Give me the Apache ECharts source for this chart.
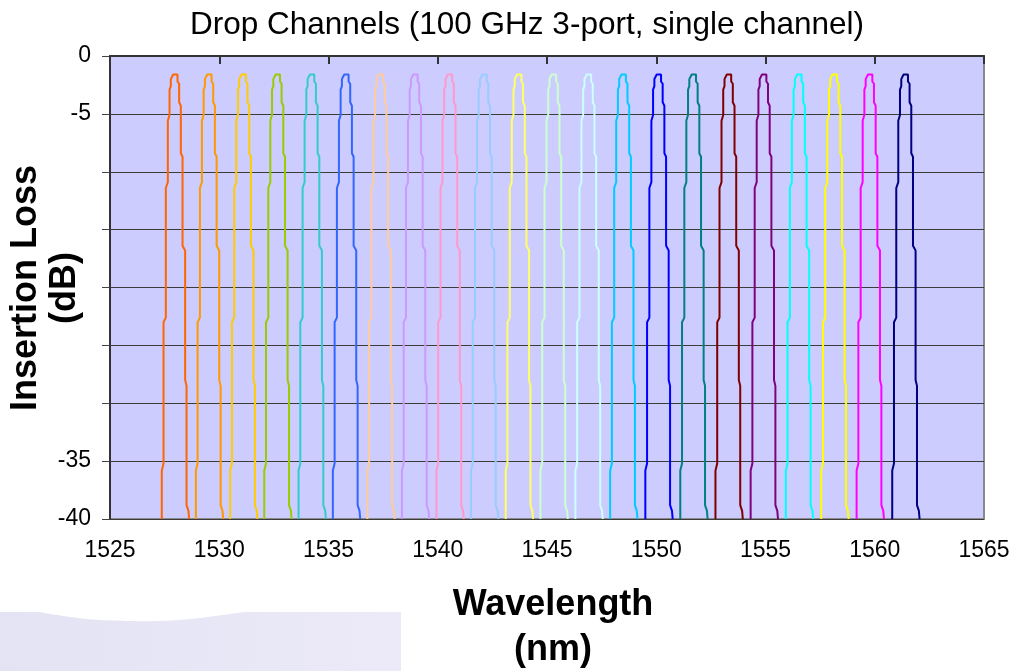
<!DOCTYPE html>
<html>
<head>
<meta charset="utf-8">
<script src="https://cdn.jsdelivr.net/npm/echarts@6/dist/echarts.min.js"></script>
<style>
  html, body { margin: 0; padding: 0; background: #ffffff; }
  #chart { width: 1015px; height: 671px; }
</style>
</head>
<body>
<div id="chart"></div>
<script>
// Channel centre wavelengths (nm), 200 GHz apart on the ITU grid
const channelCenters = [
  1527.99, 1529.55, 1531.12, 1532.68, 1534.25, 1535.82, 1537.40, 1538.98,
  1540.56, 1542.14, 1543.73, 1545.32, 1546.92, 1548.51, 1550.12, 1551.72,
  1553.33, 1554.94, 1556.55, 1558.17, 1559.79, 1561.42
];

const channelColors = [
  '#FF6600', '#FF9900', '#FFCC00', '#99CC00', '#33CCCC', '#3366FF',
  '#FFCC99', '#CC99FF', '#FF99CC', '#99CCFF', '#FFFF66', '#CCFFCC',
  '#CCFFFF', '#00CCFF', '#0000FF', '#008080', '#800000', '#800080',
  '#00FFFF', '#FFFF00', '#FF00FF', '#000080'
];

// Measured drop-port passband: wavelength offset from centre (nm), insertion loss (dB)
const passbandOffsets = [
  -0.62, -0.62, -0.54, -0.54, -0.435, -0.435, -0.343, -0.343, -0.265, -0.265,
  -0.206, -0.206, -0.10, 0.10, 0.10, 0.174, 0.174, 0.252, 0.252, 0.33,
  0.33, 0.449, 0.449, 0.513, 0.513, 0.60, 0.632
];
const passbandLoss = [
  -40, -35.8, -35.2, -23.0, -22.6, -11.4, -10.9, -5.6, -5.1, -2.9,
  -2.6, -2.0, -1.6, -1.6, -2.2, -2.4, -4.0, -4.3, -8.4, -8.7,
  -16.4, -16.8, -28.0, -28.5, -38.8, -39.3, -40
];

const yTickLabels = { '0': '0', '-5': '-5', '-35': '-35', '-40': '-40' };

const FONT = '"Liberation Sans", Arial, sans-serif';

const series = channelCenters.map((c, i) => ({
  type: 'line',
  name: 'Ch ' + (i + 1),
  xAxisIndex: 0,
  data: passbandOffsets.map((d, k) => [c + d, passbandLoss[k]]),
  showSymbol: false,
  symbol: 'none',
  lineStyle: { width: 2, color: channelColors[i] },
  itemStyle: { color: channelColors[i] },
  clip: true,
  z: 3
}));

const chart = echarts.init(document.getElementById('chart'));
chart.setOption({
  animation: false,
  backgroundColor: '#ffffff',
  grid: {
    left: 110, right: 31, top: 56, bottom: 152,
    show: true,
    backgroundColor: '#CCCCFF',
    borderColor: '#8a8a8a',
    borderWidth: 2
  },
  xAxis: [
    {
      type: 'value', position: 'bottom',
      min: 1525, max: 1565, interval: 5,
      axisLine: { show: false },
      axisTick: { show: false },
      splitLine: { show: false },
      axisLabel: {
        fontFamily: FONT, fontSize: 23, color: '#000', margin: 20,
        formatter: v => String(v)
      }
    },
    {
      type: 'value', position: 'top',
      min: 1525, max: 1565, interval: 5,
      axisLine: { show: true, onZero: false, lineStyle: { color: '#333', width: 2 } },
      axisTick: { show: true, inside: true, length: 8, lineStyle: { color: '#333', width: 2 } },
      axisLabel: { show: false },
      splitLine: { show: false }
    }
  ],
  yAxis: {
    type: 'value', min: -40, max: 0, interval: 5,
    axisLine: { show: true, onZero: false, lineStyle: { color: '#333', width: 2 } },
    axisTick: { show: true, inside: false, length: 8, lineStyle: { color: '#444', width: 1 } },
    splitLine: { show: true, lineStyle: { color: '#3c3c3c', width: 1 } },
    axisLabel: {
      fontFamily: FONT, fontSize: 23, color: '#000', margin: 19,
      formatter: v => yTickLabels[String(v)] || ''
    }
  },
  graphic: [
    {
      type: 'rect',
      shape: { x: 0, y: 612, width: 401, height: 59 },
      style: {
        fill: {
          type: 'linear', x: 0, y: 0, x2: 1, y2: 0,
          colorStops: [
            { offset: 0, color: '#E3E3F3' },
            { offset: 1, color: '#ECEAF9' }
          ]
        }
      },
      z: 0
    },
    {
      type: 'polygon',
      shape: {
        points: [[40, 611], [70, 617], [100, 620], [130, 621], [160, 621],
                 [190, 619], [215, 616], [245, 611]],
        smooth: 0.4
      },
      style: { fill: '#ffffff' },
      z: 1
    },
    {
      type: 'text',
      x: 527, y: 25,
      style: {
        text: 'Drop Channels (100 GHz 3-port, single channel)',
        font: '31.5px ' + FONT, fill: '#000',
        align: 'center', verticalAlign: 'middle'
      },
      z: 5
    },
    {
      type: 'text',
      x: 46, y: 288, rotation: Math.PI / 2,
      style: {
        text: 'Insertion Loss\n(dB)',
        font: 'bold 36px ' + FONT, fill: '#000',
        align: 'center', verticalAlign: 'middle', lineHeight: 39
      },
      z: 5
    },
    {
      type: 'text',
      x: 553, y: 628,
      style: {
        text: 'Wavelength\n(nm)',
        font: 'bold 36px ' + FONT, fill: '#000',
        align: 'center', verticalAlign: 'middle', lineHeight: 45
      },
      z: 5
    }
  ],
  series: series
});
</script>
</body>
</html>
